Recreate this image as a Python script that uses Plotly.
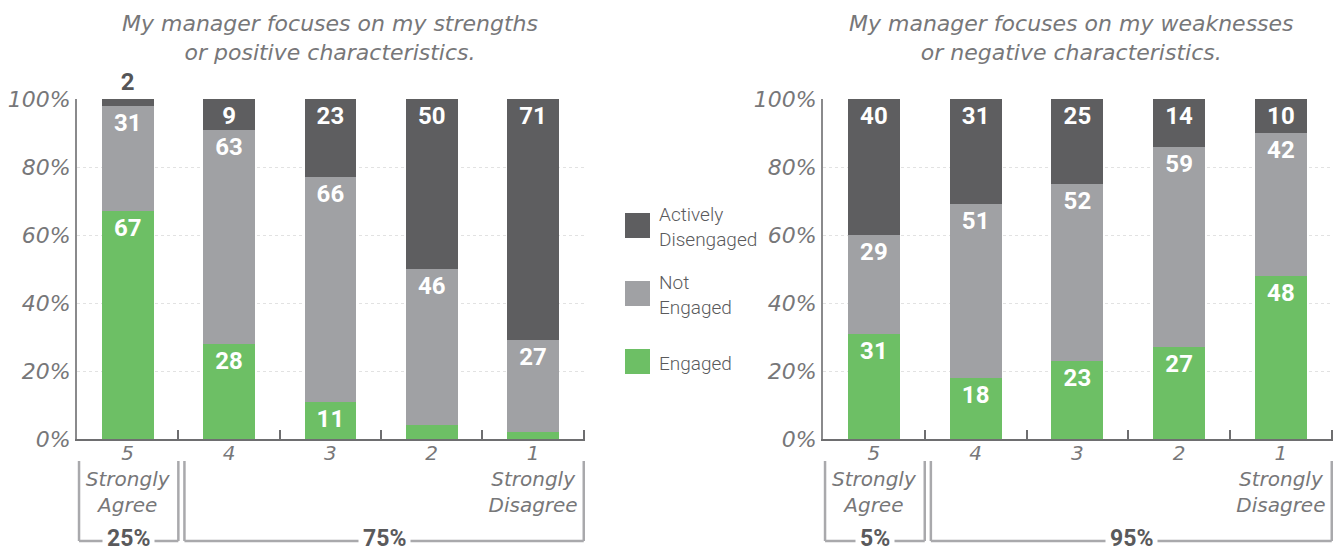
import plotly.graph_objects as go
from plotly.subplots import make_subplots

# answer categories (5 = strongly agree ... 1 = strongly disagree)
categories = ["5", "4", "3", "2", "1"]
tick_labels = ["5<br>Strongly<br>Agree", "4", "3", "2", "1<br>Strongly<br>Disagree"]
y_ticks = [0, 20, 40, 60, 80, 100]
y_tick_labels = ["0%", "20%", "40%", "60%", "80%", "100%"]

series_names = ["Engaged", "Not Engaged", "Actively Disengaged"]
legend_labels = ["Engaged", "Not<br>Engaged", "Actively<br>Disengaged"]

# left chart: strengths
strengths_engaged = [67, 28, 11, 4, 2]
strengths_not_engaged = [31, 63, 66, 46, 27]
strengths_actively = [2, 9, 23, 50, 71]

# right chart: weaknesses
weak_engaged = [31, 18, 23, 27, 48]
weak_not_engaged = [29, 51, 52, 59, 42]
weak_actively = [40, 31, 25, 14, 10]

titles = [
    "My manager focuses on my strengths<br>or positive characteristics.",
    "My manager focuses on my weaknesses<br>or negative characteristics.",
]
# share of respondents in each bracket (agree / the rest)
strengths_groups = ["25%", "75%"]
weak_groups = ["5%", "95%"]

colors = ["#6dbf65", "#a0a1a4", "#5e5e60"]
W, H = 1339, 551
LABEL_FONT = "Roboto, sans-serif"
ITALIC_FONT = "DejaVu Sans, sans-serif"
ITALIC_COLOR = "#777779"

fig = make_subplots(rows=1, cols=2)


def add_chart(col, values):
    for i, vals in enumerate(values):
        top = i == len(values) - 1
        text, pos, tcol = [], [], []
        for v in vals:
            if v >= 5:
                text.append(str(v))
                pos.append("inside")
                tcol.append("white")
            elif top:
                text.append(str(v))
                pos.append("outside")
                tcol.append("#555557")
            else:
                text.append("")
                pos.append("inside")
                tcol.append("white")
        fig.add_trace(
            go.Bar(
                x=categories,
                y=vals,
                name=series_names[i],
                marker=dict(color=colors[i], line=dict(width=0)),
                text=text,
                textposition=pos,
                insidetextanchor="end",
                constraintext="none",
                cliponaxis=False,
                textangle=0,
                textfont=dict(family=LABEL_FONT, size=24, color=tcol, weight="bold"),
                showlegend=False,
                hoverinfo="skip",
            ),
            row=1,
            col=col,
        )


add_chart(1, [strengths_engaged, strengths_not_engaged, strengths_actively])
add_chart(2, [weak_engaged, weak_not_engaged, weak_actively])

fig.update_layout(
    width=W,
    height=H,
    barmode="stack",
    bargap=0.49,
    plot_bgcolor="white",
    paper_bgcolor="white",
    margin=dict(l=0, r=0, t=99, b=112),
    xaxis=dict(domain=[77 / W, 585 / W]),
    xaxis2=dict(domain=[823 / W, 1333 / W]),
)

fig.update_xaxes(
    type="category",
    tickvals=categories,
    ticktext=tick_labels,
    showline=True,
    linecolor="#6e6e70",
    linewidth=2,
    ticks="inside",
    tickson="boundaries",
    ticklen=9,
    tickwidth=1.5,
    tickcolor="#6e6e70",
    ticklabelstandoff=-5,
    showgrid=False,
    tickfont=dict(family=ITALIC_FONT, size=20, color=ITALIC_COLOR, style="italic", weight=300),
)
fig.update_yaxes(
    range=[0, 100],
    tickvals=y_ticks,
    ticktext=y_tick_labels,
    showline=True,
    linecolor="#8a8a8c",
    linewidth=2,
    showgrid=True,
    gridcolor="#e2e2e2",
    griddash="dot",
    gridwidth=1,
    zeroline=False,
    ticks="",
    tickfont=dict(family=ITALIC_FONT, size=22, color=ITALIC_COLOR, style="italic", weight=300),
)


def py(px):
    # pixel row -> paper y
    return (439 - px) / 340


annotations = []
shapes = []
title_centers = [330, 1071]
for k, (xr, groups) in enumerate([("x", strengths_groups), ("x2", weak_groups)]):
    annotations.append(dict(
        x=title_centers[k] / W, y=py(38), xref="paper", yref="paper",
        text=titles[k], showarrow=False, xanchor="center", yanchor="middle",
        font=dict(family=ITALIC_FONT, size=22, color=ITALIC_COLOR, style="italic", weight=300),
    ))
    spans = [(-0.48, 0.5), (0.56, 4.5)]
    for (x0, x1), g in zip(spans, groups):
        line = dict(color="#a9a9ac", width=2.5)
        shapes.append(dict(type="line", xref=xr, yref="paper", x0=x0, x1=x0, y0=py(461), y1=py(541), line=line))
        shapes.append(dict(type="line", xref=xr, yref="paper", x0=x1, x1=x1, y0=py(461), y1=py(541), line=line))
        shapes.append(dict(type="line", xref=xr, yref="paper", x0=x0, x1=x1, y0=py(541), y1=py(541), line=line))
        annotations.append(dict(
            x=(x0 + x1) / 2, y=py(538), xref=xr, yref="paper", text=g,
            showarrow=False, xanchor="center", yanchor="middle",
            bgcolor="white", borderpad=4,
            font=dict(family=LABEL_FONT, size=23, color="#5a5a5c", weight="bold"),
        ))

# legend drawn as swatches + labels (top to bottom: actively, not, engaged)
swatch_tops = [349, 281, 213]
for i in range(3):
    t = swatch_tops[i]
    shapes.append(dict(
        type="rect", xref="paper", yref="paper",
        x0=625 / W, x1=650 / W, y0=py(t + 25), y1=py(t),
        fillcolor=colors[i], line=dict(width=0),
    ))
    annotations.append(dict(
        x=657 / W, y=py(t + 14), xref="paper", yref="paper",
        text=legend_labels[i], showarrow=False, xanchor="left", yanchor="middle", align="left",
        font=dict(family=LABEL_FONT, size=19, color="#5a5a5c", weight=300),
    ))

fig.update_layout(annotations=annotations, shapes=shapes)

# the page body has an 8px default margin; drop it so the figure sits at 0,0
fig.write_html(
    "out.html",
    config={"displayModeBar": False},
    post_script="document.body.style.margin='0';",
)
